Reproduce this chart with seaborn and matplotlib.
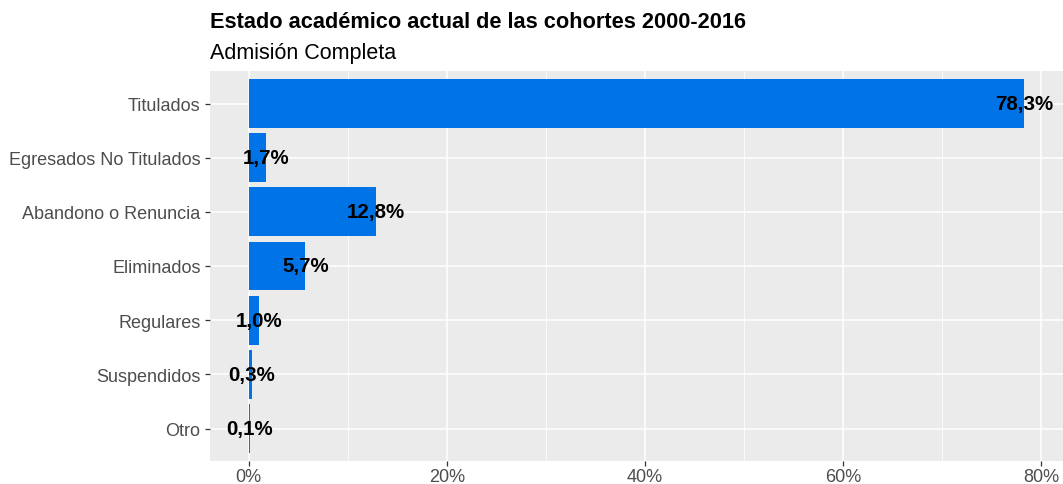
import pandas as pd
import matplotlib
matplotlib.use("Agg")
import matplotlib.pyplot as plt
import seaborn as sns
from matplotlib.ticker import FixedLocator

# Datos del gráfico
estados = ["Titulados", "Egresados No Titulados", "Abandono o Renuncia",
           "Eliminados", "Regulares", "Suspendidos", "Otro"]
porcentajes = [78.3, 1.7, 12.8, 5.7, 1.0, 0.3, 0.1]
ticks_x = [0, 20, 40, 60, 80]

df = pd.DataFrame({"estado": estados, "pct": porcentajes})

sns.set_theme(style="darkgrid")
plt.rcParams["font.family"] = ["Liberation Sans", "DejaVu Sans"]

fig = plt.figure(figsize=(10.63, 4.85), dpi=100)
ax = fig.add_axes([210 / 1063, 1 - 462 / 485, 853 / 1063, 390 / 485])
ax.set_facecolor("#EBEBEB")

sns.barplot(data=df, x="pct", y="estado", order=estados, color="#0073E6",
            saturation=1, width=0.9, linewidth=0, edgecolor="none", ax=ax)

# Etiquetas de porcentaje
for i, v in enumerate(porcentajes):
    ax.text(v, i, f"{v:.1f}%".replace(".", ","), ha="center", va="center",
            fontsize=14.8, fontweight="bold", color="black")

rango = max(porcentajes)
ax.set_xlim(-0.05 * rango, rango * 1.05)
ax.set_ylim(len(estados) - 0.4, -0.6)
ax.set_xticks(ticks_x)
ax.set_xticklabels([f"{t}%" for t in ticks_x])
ax.xaxis.set_minor_locator(FixedLocator([10, 30, 50, 70]))

ax.grid(which="major", axis="both", color="white", linewidth=1.1)
ax.grid(which="minor", axis="x", color="white", linewidth=0.55)
ax.set_axisbelow(True)
for s in ax.spines.values():
    s.set_visible(False)

ax.tick_params(axis="both", which="major", length=3.8, width=0.9, color="#333333",
               labelsize=13, labelcolor="#4D4D4D", pad=3, direction="out")
ax.tick_params(axis="x", pad=1.5)
ax.tick_params(which="minor", length=0)
ax.tick_params(axis="x", bottom=True)
ax.tick_params(axis="y", left=True)
ax.set_xlabel("")
ax.set_ylabel("")

fig.text(210 / 1063, 1 - 28 / 485, "Estado académico actual de las cohortes 2000-2016",
         fontsize=15.7, fontweight="bold", color="black", ha="left", va="baseline")
fig.text(210 / 1063, 1 - 59 / 485, "Admisión Completa",
         fontsize=15.5, color="black", ha="left", va="baseline")

fig.savefig("out.png", dpi=100)
